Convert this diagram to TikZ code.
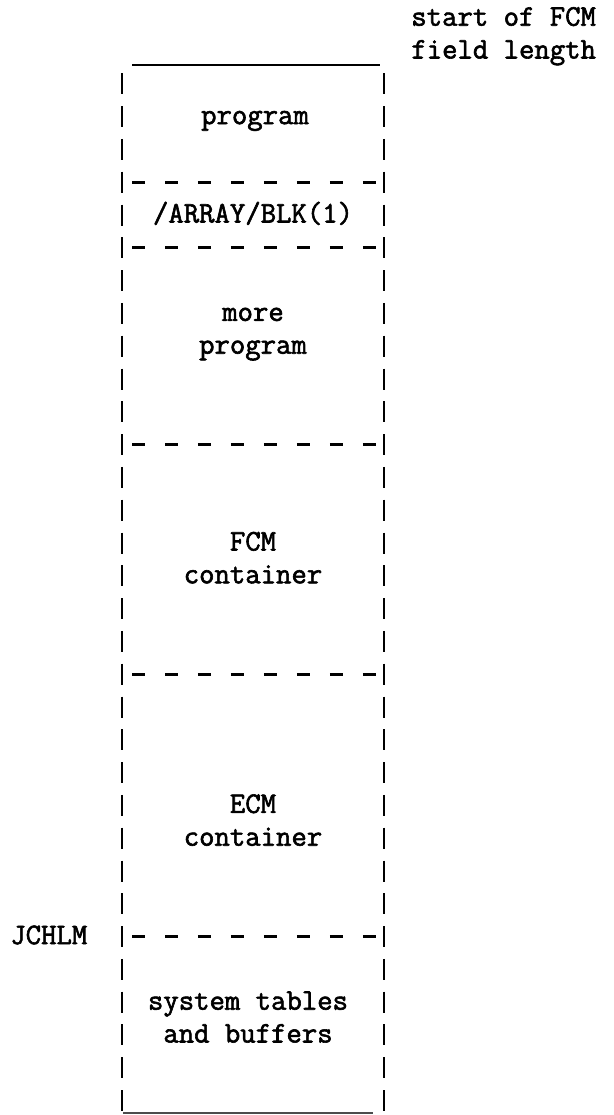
\documentclass[tikz,border=0pt]{standalone}
\usepackage{fontspec}
\newfontfamily\typewriter[FakeBold=2]{Latin Modern Mono}
\begin{document}
\begin{tikzpicture}[
        wall/.style={line width=1.5pt, dash pattern=on 0.42cm off 0.236cm},
        divider/.style={line width=1.7pt, dash pattern=on 0.26cm off 0.40cm},
        entry/.style={inner sep=0pt, anchor=base, font=\typewriter\fontsize{17}{20}\selectfont},
        margin/.style={entry, anchor=base west}
    ]
        \useasboundingbox (0,0) rectangle (12.26,-22.3);

        % Sides of the field length
        \coordinate (tl) at (2.44,-1.466);
        \coordinate (tr) at (7.68,-1.466);
        \coordinate (bl) at (2.44,-22.22);
        \coordinate (br) at (7.68,-22.22);

        \draw[wall] (tl) -- (bl);
        \draw[wall] (tr) -- (br);
        \draw[line width=1.3pt] (2.64,-1.3) -- (7.6,-1.3);
        \draw[line width=0.8pt, black!70] (2.46,-22.26) -- (7.46,-22.26);

        % Boundaries between the areas
        \draw[divider] (2.64,-3.644) -- (7.56,-3.644);
        \draw[divider] (2.64,-4.956) -- (7.56,-4.956);
        \draw[divider] (2.64,-8.892) -- (7.56,-8.892);
        \draw[divider] (2.64,-13.484) -- (7.56,-13.484);
        \draw[divider] (2.64,-18.732) -- (7.56,-18.732);

        % Top of the field
        \node[margin] (start) at (8.22,-0.514) {start of FCM};
        \node[margin] (field) at (8.22,-1.17) {field length};

        % Areas
        \node[entry] (prog) at (5.1,-2.482) {program};
        \node[entry] (blk) at (5.06,-4.45) {/ARRAY/BLK(1)};
        \node[entry] (more) at (5.06,-6.418) {more};
        \node[entry] (moreprog) at (5.06,-7.074) {program};
        \node[entry] (fcm) at (5.06,-11.01) {FCM};
        \node[entry] (fcmcont) at (5.06,-11.666) {container};
        \node[entry] (ecm) at (5.06,-16.258) {ECM};
        \node[entry] (ecmcont) at (5.06,-16.914) {container};
        \node[entry] (sys) at (4.96,-20.194) {system tables};
        \node[entry] (buf) at (4.96,-20.85) {and buffers};

        % Limit marker
        \node[margin] (jchlm) at (0.2,-18.882) {JCHLM};
    \end{tikzpicture}
\end{document}
